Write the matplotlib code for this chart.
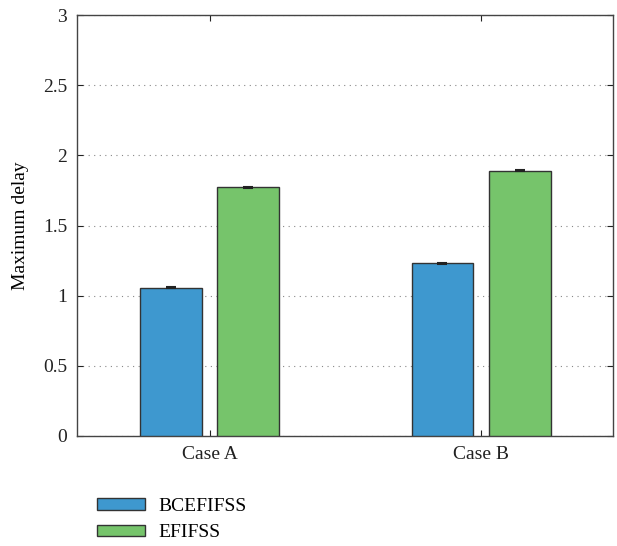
import numpy as np
import matplotlib
matplotlib.use("Agg")
import matplotlib.pyplot as plt
from matplotlib.patches import Patch

plt.rcParams['font.family'] = ['Liberation Serif', 'DejaVu Serif']
plt.rcParams['font.size'] = 14

# data
cases = ["Case A", "Case B"]
bcefifss = [1.057, 1.23]
efifss = [1.772, 1.89]
bcefifss_err = [0.004, 0.004]
efifss_err = [0.004, 0.004]

blue = "#3E98CF"
green = "#76C46B"

fig = plt.figure(figsize=(6.17, 5.46), dpi=100)
ax = fig.add_axes([77/617, 1 - 436/546, (613-77)/617, (436-15)/546])

x = np.arange(1, len(cases) + 1)
w = 0.228
off = 0.142

ax.bar(x - off, bcefifss, w, color=blue, edgecolor="#333333", linewidth=1.0, zorder=3)
ax.bar(x + off, efifss, w, color=green, edgecolor="#333333", linewidth=1.0, zorder=3)
ax.errorbar(x - off, bcefifss, yerr=bcefifss_err, fmt="none", ecolor="#222222",
            capsize=3.5, elinewidth=1.0, capthick=1.5, zorder=4)
ax.errorbar(x + off, efifss, yerr=efifss_err, fmt="none", ecolor="#222222",
            capsize=3.5, elinewidth=1.0, capthick=1.5, zorder=4)

ax.set_xlim(0.512, 2.486)
ax.set_ylim(0, 3)
ax.set_xticks(x)
ax.set_xticklabels(cases)
ax.set_yticks([0, 0.5, 1, 1.5, 2, 2.5, 3])
ax.set_yticklabels(["0", "0.5", "1", "1.5", "2", "2.5", "3"])
ax.tick_params(direction="in", top=True, right=True, length=4, width=0.8,
               colors="#222222", labelsize=14, pad=7)
ax.yaxis.grid(True, linestyle=(0, (1, 4)), color="#888888", linewidth=0.8, zorder=0)
for s in ax.spines.values():
    s.set_color("#444444")
    s.set_linewidth(1.0)

ax.set_ylabel("Maximum delay", fontsize=14, labelpad=10)

handles = [Patch(facecolor=blue, edgecolor="#333333", label="BCEFIFSS"),
           Patch(facecolor=green, edgecolor="#333333", label="EFIFSS")]
fig.legend(handles=handles, loc="upper left", bbox_to_anchor=(81/617, 1 - 482/546),
           frameon=False, fontsize=14, handlelength=2.5, handleheight=0.55,
           handletextpad=0.7, labelspacing=0.5, borderpad=0.3)

fig.savefig("out.png", dpi=100)
